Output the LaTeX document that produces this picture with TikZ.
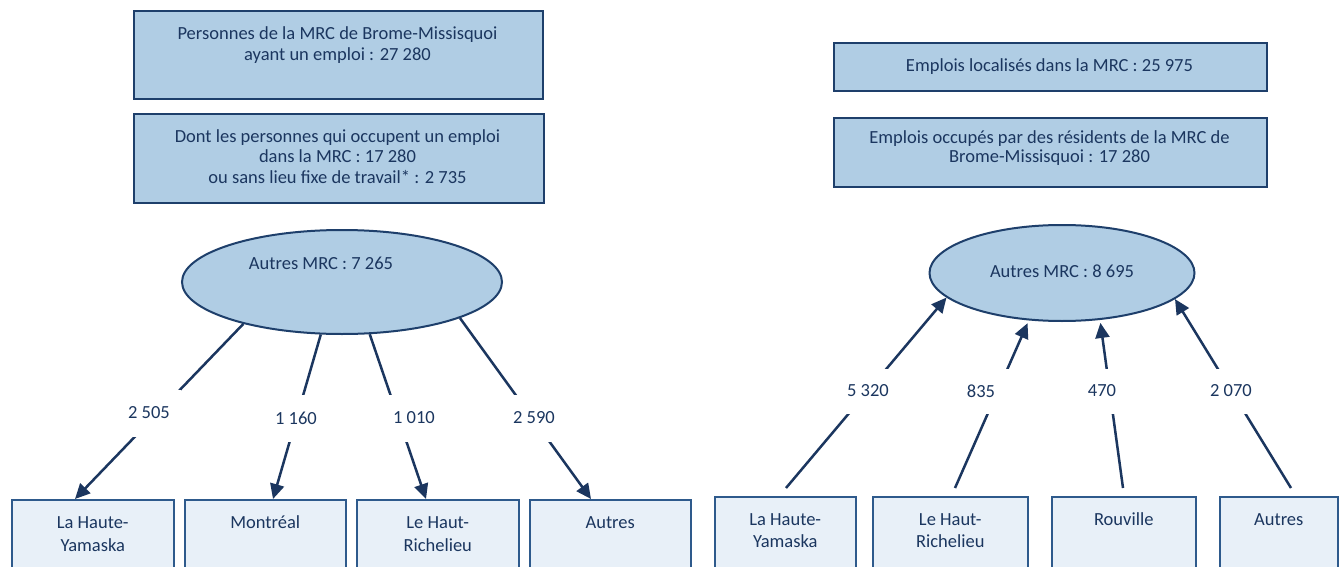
\documentclass[tikz,border=0pt]{standalone}
\usepackage{fontspec}
\setmainfont{Carlito}
\usetikzlibrary{shapes.geometric,arrows.meta,calc}
\definecolor{navy}{HTML}{1B365F}
\definecolor{boxline}{HTML}{1E3F6B}
\definecolor{topfill}{HTML}{B0CDE4}
\definecolor{botfill}{HTML}{E8F0F8}
\definecolor{botline}{HTML}{2E5A8C}
\begin{document}
\begin{tikzpicture}[x=1pt,y=-1pt,
  topbox/.style={draw=boxline, line width=2pt, fill=topfill, anchor=north west, inner sep=0pt},
  botbox/.style={draw=botline, line width=1.5pt, fill=botfill, anchor=north west, inner sep=0pt, minimum height=90pt},
  txt/.style={text=navy, font=\fontsize{18.5}{21}\selectfont, align=center, inner sep=0pt, anchor=base},
  conn/.style={draw=navy, line width=2.5pt},
  arr/.style={conn, -{Triangle[length=15pt,width=14pt]}},
  num/.style={txt, anchor=center, fill=white, minimum width=64pt, minimum height=47pt}]
\clip (0,0) rectangle (1341,567);
\fill[white] (0,0) rectangle (1341,567);
% top boxes left
\node[topbox, minimum width=409pt, minimum height=88pt] (b1) at (133,10) {};
\node[txt] (t1) at (337.5,61) {Personnes de la MRC de Brome-Missisquoi\\ayant un emploi : 27 280};
\node[topbox, minimum width=410pt, minimum height=89pt] (b2) at (133,113) {};
\node[txt, font=\fontsize{18.5}{20.5}\selectfont] (t2) at (337.5,183) {Dont les personnes qui occupent un emploi\\dans la MRC : 17 280\\ou sans lieu fixe de travail* : 2 735};
% top boxes right
\node[topbox, minimum width=433pt, minimum height=48pt] (b3) at (833,42) {};
\node[txt] (t3) at (1049.5,72) {Emplois localisés dans la MRC : 25 975};
\node[topbox, minimum width=433pt, minimum height=69pt] (b4) at (833,117) {};
\node[txt, font=\fontsize{18.5}{19}\selectfont] (t4) at (1049.5,163) {Emplois occupés par des résidents de la MRC de\\Brome-Missisquoi : 17 280};
% ellipses
\node[ellipse, draw=boxline, line width=2pt, fill=topfill, minimum width=320pt, minimum height=104pt, inner sep=0pt] (e1) at (342,282) {};
\node[txt] (te1) at (321,269) {Autres MRC : 7 265};
\node[ellipse, draw=boxline, line width=2pt, fill=topfill, minimum width=265pt, minimum height=96pt, inner sep=0pt] (e2) at (1062,273) {};
\node[txt] (te2) at (1062,277) {Autres MRC : 8 695};
% bottom boxes left
\node[botbox, minimum width=162pt] (m1) at (11,499) {};
\node[botbox, minimum width=161pt] (m2) at (184,499) {};
\node[botbox, minimum width=162pt] (m3) at (356,499) {};
\node[botbox, minimum width=161pt] (m4) at (529,499) {};
\node[txt, font=\fontsize{18.5}{22.5}\selectfont] (tm1) at ($(m1.north)+(0,52)$) {La Haute-\\Yamaska};
\node[txt] (tm2) at ($(m2.north)+(0,29)$) {Montréal};
\node[txt, font=\fontsize{18.5}{22.5}\selectfont] (tm3) at ($(m3.north)+(0,52)$) {Le Haut-\\Richelieu};
\node[txt] (tm4) at ($(m4.north)+(0,29)$) {Autres};
% bottom boxes right
\node[botbox, minimum width=141pt] (r1) at (714,496) {};
\node[botbox, minimum width=155pt] (r2) at (872,496) {};
\node[botbox, minimum width=144pt] (r3) at (1051,496) {};
\node[botbox, minimum width=118pt] (r4) at (1219,496) {};
\node[txt, font=\fontsize{18.5}{22}\selectfont] (tr1) at ($(r1.north)+(0,51)$) {La Haute-\\Yamaska};
\node[txt, font=\fontsize{18.5}{22}\selectfont] (tr2) at ($(r2.north)+(0,51)$) {Le Haut-\\Richelieu};
\node[txt] (tr3) at ($(r3.north)+(0,29)$) {Rouville};
\node[txt] (tr4) at ($(r4.north)+(0,29)$) {Autres};
% connectors left
\draw[arr] (e1.203) -- ($(m1.north west)+(64,0)$);
\draw[arr] (e1.248) -- ($(m2.north west)+(89,0)$);
\draw[arr] (e1.298) -- ($(m3.north west)+(70,0)$);
\draw[arr] (e1.343) -- ($(m4.north west)+(62,0)$);
% connectors right
\draw[arr] ($(r1.north west)+(72,-8)$) -- (e2.192);
\draw[arr, shorten >=3pt] ($(r2.north west)+(83,-8)$) -- (e2.235);
\draw[arr, shorten >=3pt] ($(r3.north west)+(72,-8)$) -- (e2.309);
\draw[arr] ($(r4.north west)+(72,-8)$) -- (e2.347);
% labels
\node[num] (n1) at (149,413) {2 505};
\node[num] (n2) at (296,418) {1 160};
\node[num] (n3) at (414,418) {1 010};
\node[num] (n4) at (534,418) {2 590};
\node[num, minimum height=45pt] (n5) at (868,391) {5 320};
\node[num, minimum height=45pt] (n6) at (981,391) {835};
\node[num, minimum height=45pt] (n7) at (1102,391) {470};
\node[num, minimum height=45pt] (n8) at (1231,391) {2 070};
\end{tikzpicture}
\end{document}
